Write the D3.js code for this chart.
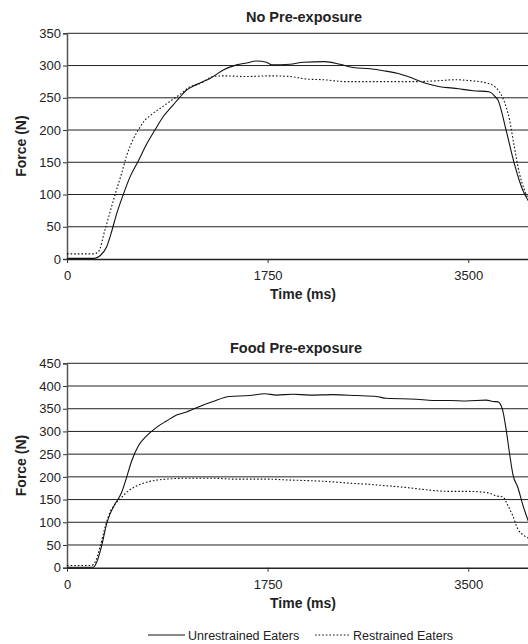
<!DOCTYPE html>
<html>
<head>
<meta charset="utf-8">
<script src="https://cdn.jsdelivr.net/npm/d3@7"></script>
<style>
  body { margin: 0; background: #fff; }
  svg { display: block; font-family: Arial, "Liberation Sans", sans-serif; }
</style>
</head>
<body>
<script>
// values: [time ms, force N]
var xTicks = [0, 1750, 3500];
var noPreTicks = [0, 50, 100, 150, 200, 250, 300, 350];
var foodPreTicks = [0, 50, 100, 150, 200, 250, 300, 350, 400, 450];
var seriesNames = ["Unrestrained Eaters", "Restrained Eaters"];

var noPreUnrestrained = [[0,1],[240,1],[288,5],[346,19],[390,43],[433,70],[491,100],[549,127],[622,152],
  [694,178],[767,200],[840,221],[927,239],[985,251],[1043,262],[1100,268],[1160,273],[1247,280],
  [1363,293],[1480,301],[1567,304],[1654,307],[1741,305],[1785,301],[1945,302],[2061,305],[2250,306],
  [2381,302],[2497,297],[2642,295],[2759,292],[2904,287],[3020,280],[3136,272],[3253,267],[3369,265],
  [3450,263],[3544,261],[3689,259],[3733,252],[3758,247],[3830,200],[3902,148],[3975,107],[4025,90]];

var noPreRestrained = [[0,8],[230,8],[273,11],[331,45],[390,82],[433,108],[477,133],[520,160],[578,186],
  [622,200],[665,212],[752,226],[840,237],[927,248],[985,255],[1072,267],[1160,272],[1276,283],
  [1363,284],[1567,283],[1770,284],[1945,283],[2090,279],[2236,278],[2439,275],[2730,275],[3020,275],
  [3195,276],[3398,278],[3485,277],[3600,275],[3660,273],[3733,267],[3770,260],[3801,250],[3860,216],
  [3902,174],[3946,133],[3990,107],[4025,93]];

var foodPreUnrestrained = [[0,1],[229,1],[259,12],[303,49],[346,97],[375,118],[419,140],[477,166],
  [520,199],[564,235],[622,268],[694,290],[781,309],[868,323],[956,336],[1043,343],[1130,352],
  [1157,355],[1273,366],[1419,377],[1593,379],[1724,383],[1826,380],[1971,382],[2116,380],[2320,381],
  [2523,379],[2698,377],[2785,373],[3047,371],[3192,368],[3337,368],[3482,367],[3657,369],[3715,366],
  [3760,365],[3800,347],[3830,305],[3860,252],[3890,205],[3935,175],[3980,135],[4025,102]];

var foodPreRestrained = [[0,5],[215,5],[245,12],[288,45],[332,89],[375,122],[419,140],[462,151],
  [520,166],[607,180],[723,190],[868,195],[1043,197],[1273,197],[1448,195],[1738,195],[1942,193],
  [2174,191],[2320,189],[2465,186],[2610,184],[2756,181],[2901,178],[3047,174],[3192,170],[3337,168],
  [3482,168],[3599,167],[3686,164],[3744,158],[3801,156],[3845,137],[3889,114],[3933,85],[3980,72],
  [4025,65]];

var W = 528, H = 644;
var font = "Arial, 'Liberation Sans', sans-serif";

var svg = d3.select("body").append("svg")
    .attr("width", W)
    .attr("height", H);

// shared time scale (plot runs off the right edge like the original)
var x = d3.scaleLinear()
    .domain([0, 4030])
    .range([67, 529]);

function drawPanel(p) {
    var y = d3.scaleLinear()
        .domain([0, p.yMax])
        .range([p.bottom, p.top]);

    var g = svg.append("g");

    // horizontal grid
    g.append("g")
        .selectAll("line")
        .data(p.yTicks.slice(1))
        .enter().append("line")
            .attr("x1", x.range()[0])
            .attr("x2", W)
            .attr("y1", function(d) { return y(d); })
            .attr("y2", function(d) { return y(d); })
            .attr("stroke", "#222")
            .attr("stroke-width", 1);

    var yAxis = g.append("g")
        .attr("transform", "translate(" + x.range()[0] + ",0)")
        .call(d3.axisLeft(y).tickValues(p.yTicks).tickFormat(d3.format("d")).tickSize(4).tickPadding(2));
    yAxis.select(".domain").attr("stroke", "#555").attr("stroke-width", 1.5);
    yAxis.selectAll(".tick line").attr("stroke", "#333");
    yAxis.selectAll("text").attr("font-size", 13).attr("fill", "#222").attr("font-family", font);

    var xAxis = g.append("g")
        .attr("transform", "translate(0," + p.bottom + ")")
        .call(d3.axisBottom(x).tickValues(xTicks).tickFormat(d3.format("d"))
            .tickSize(4).tickPadding(8).tickSizeOuter(0));
    xAxis.select(".domain").attr("stroke", "#222").attr("stroke-width", 1.5);
    xAxis.selectAll(".tick line").attr("stroke", "#333");
    xAxis.selectAll("text").attr("font-size", 13).attr("fill", "#222").attr("font-family", font);

    var line = d3.line()
        .x(function(d) { return x(d[0]); })
        .y(function(d) { return y(d[1]); })
        .curve(d3.curveMonotoneX);

    g.append("path")
        .datum(p.restrained)
        .attr("d", line)
        .attr("fill", "none")
        .attr("stroke", "#111")
        .attr("stroke-width", 1.1)
        .attr("stroke-dasharray", "1.6,2");

    g.append("path")
        .datum(p.unrestrained)
        .attr("d", line)
        .attr("fill", "none")
        .attr("stroke", "#111")
        .attr("stroke-width", 1.1);

    // titles
    g.append("text")
        .attr("x", p.titleX)
        .attr("y", p.titleY)
        .attr("text-anchor", "middle")
        .attr("font-weight", "bold")
        .attr("font-size", 14.5)
        .attr("fill", "#222")
        .text(p.title);

    g.append("text")
        .attr("x", 303)
        .attr("y", p.bottom + 40)
        .attr("text-anchor", "middle")
        .attr("font-weight", "bold")
        .attr("font-size", 14)
        .attr("fill", "#222")
        .text("Time (ms)");

    g.append("text")
        .attr("transform", "translate(26," + ((p.top + p.bottom) / 2) + ") rotate(-90)")
        .attr("text-anchor", "middle")
        .attr("font-weight", "bold")
        .attr("font-size", 14)
        .attr("fill", "#222")
        .text("Force (N)");
}

drawPanel({
    title: "No Pre-exposure", titleX: 304, titleY: 22,
    top: 33.3, bottom: 259, yMax: 350, yTicks: noPreTicks,
    unrestrained: noPreUnrestrained, restrained: noPreRestrained
});

drawPanel({
    title: "Food Pre-exposure", titleX: 296, titleY: 353,
    top: 363.3, bottom: 567.7, yMax: 450, yTicks: foodPreTicks,
    unrestrained: foodPreUnrestrained, restrained: foodPreRestrained
});

// legend
var legend = svg.append("g").attr("transform", "translate(0,635)");
var legendX = [[148, 185], [315, 350]];
seriesNames.forEach(function(name, i) {
    legend.append("line")
        .attr("x1", legendX[i][0]).attr("x2", legendX[i][1])
        .attr("y1", 0).attr("y2", 0)
        .attr("stroke", "#111")
        .attr("stroke-width", 1)
        .attr("stroke-dasharray", i === 1 ? "1.6,2" : null);
    legend.append("text")
        .attr("x", legendX[i][1] + 3)
        .attr("y", 4.5)
        .attr("font-size", 12.5)
        .attr("fill", "#222")
        .text(name);
});
</script>
</body>
</html>
